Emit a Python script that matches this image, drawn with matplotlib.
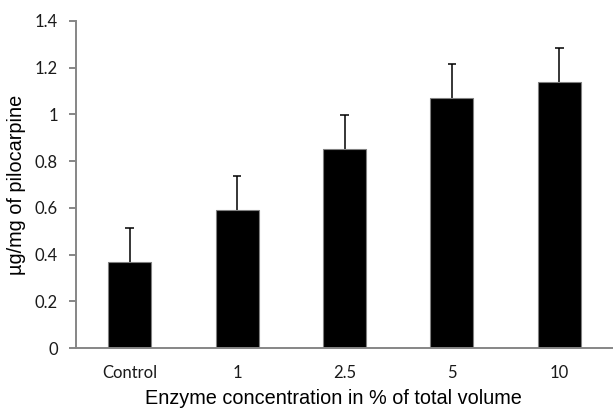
import matplotlib
matplotlib.use("Agg")
import matplotlib.pyplot as plt
import numpy as np

categories = ["Control", "1", "2.5", "5", "10"]
values = [0.37, 0.59, 0.85, 1.07, 1.14]
errors = [0.145, 0.145, 0.145, 0.145, 0.145]
yticks = [0, 0.2, 0.4, 0.6, 0.8, 1, 1.2, 1.4]
ytick_labels = ["0", "0.2", "0.4", "0.6", "0.8", "1", "1.2", "1.4"]

fig = plt.figure(figsize=(6.13, 4.08), dpi=100)
ax = fig.add_axes([0.124, 0.147, 0.876, 0.802])

x = np.arange(len(categories))
vals = np.array(values)
errs = np.array(errors)
ax.bar(x, vals, width=0.4, color="black", edgecolor="#808080", linewidth=0.8, zorder=2)
ax.vlines(x, vals, vals + errs, color="black", linewidth=1.1, zorder=1)
ax.hlines(vals + errs, x - 0.04, x + 0.04, color="black", linewidth=1.1, zorder=1)

ax.set_xlim(-0.5, len(categories) - 0.5)
ax.set_ylim(0, 1.4)
ax.set_yticks(yticks)
ax.set_yticklabels(ytick_labels, fontfamily="Lato", fontsize=12, color="#1a1a1a")
ax.set_xticks(x)
ax.set_xticklabels(categories, fontfamily="Lato", fontsize=12, color="#1a1a1a")
ax.tick_params(axis="x", length=0, pad=12)
ax.tick_params(axis="y", length=5, color="#868686", width=1.4, pad=8)

for s in ["top", "right"]:
    ax.spines[s].set_visible(False)
for s in ["left", "bottom"]:
    ax.spines[s].set_color("#868686")
    ax.spines[s].set_linewidth(1.4)

ax.set_ylabel("µg/mg of pilocarpine", fontfamily="Liberation Sans", fontsize=14.3, labelpad=6)
ax.set_xlabel("Enzyme concentration in % of total volume", fontfamily="Liberation Sans", fontsize=14.3)
ax.xaxis.set_label_coords(0.48, -0.125)

fig.savefig("out.png", dpi=100)
